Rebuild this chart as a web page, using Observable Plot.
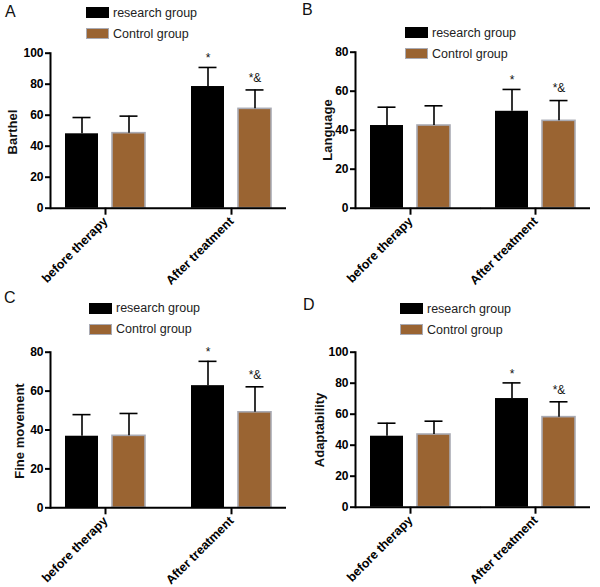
<!DOCTYPE html>
<html>
<head>
<meta charset="utf-8">
<script src="https://cdn.jsdelivr.net/npm/d3@7"></script>
<script src="https://cdn.jsdelivr.net/npm/@observablehq/plot@0.6"></script>
<style>
  html, body { margin: 0; padding: 0; background: #fff; }
  #page { position: relative; width: 600px; height: 587px; overflow: hidden; background: #fff;
          font-family: "Liberation Sans", Arial, Helvetica, sans-serif; }
  .abs { position: absolute; }
  .letter { font-size: 16px; line-height: 16px; color: #111; }
  .ytitle { font-size: 13px; font-weight: bold; color: #111; white-space: nowrap;
            transform: translate(-50%, -50%) rotate(-90deg); line-height: 13px; }
  .swatch { width: 23px; height: 11px; box-sizing: border-box; }
  .legtext { font-size: 12.5px; line-height: 12.5px; color: #222; white-space: nowrap;
             transform: translateY(-50%); }
</style>
</head>
<body>
<div id="page"></div>
<script>
// ---------------- data ----------------
const phases = ["before therapy", "After treatment"];
const groups = ["research group", "Control group"];
const panelLetters = ["A", "B", "C", "D"];
const yTitles = ["Barthel", "Language", "Fine movement", "Adaptability"];
const yMaxes = [100, 80, 80, 100];
const yTickStep = 20;

const barthelResearch = [48.0, 78.5];
const barthelResearchSD = [10.5, 12.3];
const barthelControl = [48.4, 64.1];
const barthelControlSD = [11.0, 12.2];

const languageResearch = [42.4, 49.7];
const languageResearchSD = [9.4, 11.2];
const languageControl = [42.4, 44.8];
const languageControlSD = [10.1, 10.4];

const fineResearch = [36.8, 62.8];
const fineResearchSD = [11.1, 12.5];
const fineControl = [37.0, 49.1];
const fineControlSD = [11.5, 13.1];

const adaptResearch = [45.8, 70.1];
const adaptResearchSD = [8.4, 10.1];
const adaptControl = [46.9, 58.1];
const adaptControlSD = [8.6, 9.9];

const sigResearch = ["", "*"];
const sigControl = ["", "*&"];

// ---------------- styling / layout ----------------
const FONT = '"Liberation Sans", Arial, Helvetica, sans-serif';
const BLACK = "#000000";
const BROWN = "#9a6432";
const OUTLINE = "#a9aab3";

const layout = [
  { left: 0,   top: 40,  w: 300, h: 250, axisX: 50,  axisR: 286,   plotTop: 52.7, plotBot: 207.7, c1: 104.5, c2: 230.5,
    letter: [5, 4], title: [12, 132], leg: [86, 7] },
  { left: 300, top: 40,  w: 300, h: 250, axisX: 354, axisR: 591.7, plotTop: 51.7, plotBot: 207.7, c1: 410.7, c2: 536,
    letter: [302, 2], title: [326.5, 130], leg: [405, 27] },
  { left: 0,   top: 340, w: 300, h: 247, axisX: 50,  axisR: 286,   plotTop: 351.7, plotBot: 507.3, c1: 104.5, c2: 230.5,
    letter: [4, 290], title: [19, 431], leg: [89, 302.7] },
  { left: 300, top: 340, w: 300, h: 247, axisX: 354, axisR: 591.7, plotTop: 351.7, plotBot: 506.7, c1: 410.7, c2: 536,
    letter: [303, 297], title: [319, 430], leg: [400, 303.3] }
];

const series = [
  [barthelResearch, barthelResearchSD, barthelControl, barthelControlSD],
  [languageResearch, languageResearchSD, languageControl, languageControlSD],
  [fineResearch, fineResearchSD, fineControl, fineControlSD],
  [adaptResearch, adaptResearchSD, adaptControl, adaptControlSD]
];

const page = document.getElementById("page");

function el(cls, styles, text) {
  const d = document.createElement("div");
  d.className = cls;
  Object.assign(d.style, styles);
  if (text != null) d.textContent = text;
  return d;
}

const overlays = [];

layout.forEach((L, k) => {
  const [res, resSD, con, conSD] = series[k];
  const rows = [];
  phases.forEach((p, i) => {
    rows.push({ phase: p, group: groups[0], mean: res[i], sd: resSD[i], sig: sigResearch[i] });
    rows.push({ phase: p, group: groups[1], mean: con[i], sd: conSD[i], sig: sigControl[i] });
  });
  const resRows = rows.filter(d => d.group === groups[0]);
  const conRows = rows.filter(d => d.group === groups[1]);

  const plotW = L.axisR - L.axisX;
  const step = L.c2 - L.c1;
  const fxBand = 110;
  const pi = 1 - fxBand / step;
  const po = Math.max(0, (plotW / step - 2 + pi) / 2);
  const realStep = plotW / (2 - pi + 2 * po);
  const gap = realStep * pi;

  const ymax = yMaxes[k];
  const top = d => d.mean + d.sd;

  const chart = Plot.plot({
    width: L.w,
    height: L.h,
    marginLeft: L.axisX - L.left,
    marginRight: L.left + L.w - L.axisR,
    marginTop: L.plotTop - L.top,
    marginBottom: L.top + L.h - L.plotBot,
    style: { background: "transparent", fontFamily: FONT, color: "#000", overflow: "visible" },
    fx: { domain: phases, paddingInner: pi, paddingOuter: po, axis: null, label: null },
    x: { domain: groups, paddingInner: 0.298, paddingOuter: 0.319, axis: null },
    y: { domain: [0, ymax], axis: null },
    marks: [
      Plot.barY(resRows, { fx: "phase", x: "group", y: "mean", fill: BLACK }),
      Plot.barY(conRows, { fx: "phase", x: "group", y: "mean", fill: BROWN, stroke: OUTLINE, strokeWidth: 1.6 }),
      Plot.ruleX(rows, { fx: "phase", x: "group", y1: "mean", y2: top, stroke: BLACK, strokeWidth: 1.6 }),
      Plot.tickY(rows, { fx: "phase", x: "group", y: top, stroke: BLACK, strokeWidth: 1.6, insetLeft: 7.5, insetRight: 7.5 }),
      Plot.text(resRows, { fx: "phase", x: "group", y: top, text: "sig", dy: -9, fontSize: 12, fill: "#111" }),
      Plot.text(conRows, { fx: "phase", x: "group", y: top, text: "sig", dy: -12, fontSize: 12, fill: "#111" }),
      Plot.axisY({ ticks: d3.range(0, ymax + 1, yTickStep), tickSize: 5, tickPadding: 2, fontSize: 12,
                   fontWeight: "bold", strokeWidth: 2, label: null }),
      Plot.axisFx({ anchor: "bottom", tickSize: 7, tickPadding: 4, tickRotate: -45, fontSize: 12.5,
                    fontWeight: "bold", strokeWidth: 2, label: null }),
      Plot.frame({ anchor: "left", facetAnchor: "left", stroke: BLACK, strokeWidth: 2 }),
      Plot.ruleY([0], { facetAnchor: "left", stroke: BLACK, strokeWidth: 2, insetRight: -gap }),
      Plot.ruleY([0], { facetAnchor: "right", stroke: BLACK, strokeWidth: 2 })
    ]
  });
  chart.style.position = "absolute";
  chart.style.left = L.left + "px";
  chart.style.top = L.top + "px";
  page.appendChild(chart);

  // overlays (letters, titles, legends)
  overlays.push(el("abs letter", { left: L.letter[0] + "px", top: L.letter[1] + "px" }, panelLetters[k]));
  overlays.push(el("abs ytitle", { left: L.title[0] + "px", top: L.title[1] + "px" }, yTitles[k]));
  const [lx, ly] = L.leg;
  const swatchColors = [BLACK, BROWN];
  groups.forEach((g, j) => {
    const sy = ly + j * 21;
    overlays.push(el("abs swatch", {
      left: lx + "px", top: sy + "px", background: swatchColors[j],
      border: j === 1 ? `1.5px solid ${OUTLINE}` : "none"
    }));
    overlays.push(el("abs legtext", { left: (lx + 27) + "px", top: (sy + 5.5) + "px" }, g));
  });
});

overlays.forEach(o => page.appendChild(o));
</script>
</body>
</html>
